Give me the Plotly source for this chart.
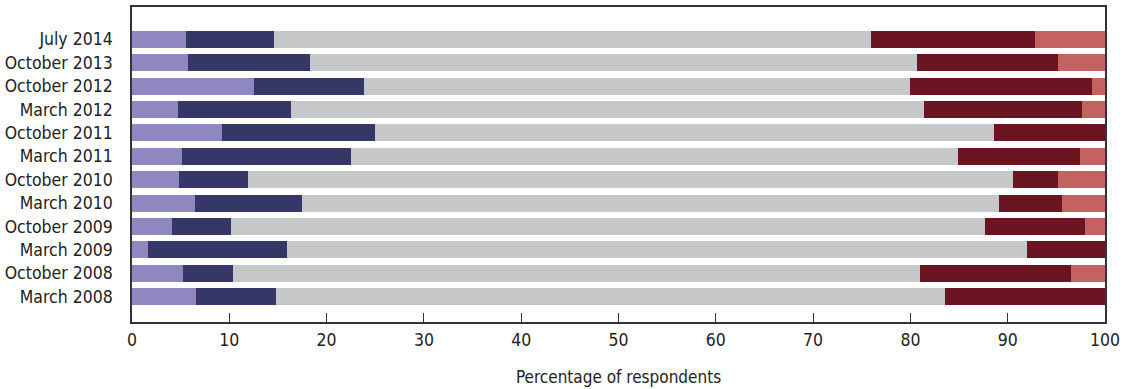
import plotly.graph_objects as go

categories = ["July 2014", "October 2013", "October 2012", "March 2012", "October 2011",
              "March 2011", "October 2010", "March 2010", "October 2009", "March 2009",
              "October 2008", "March 2008"]

s1 = [5.6, 5.8, 12.5, 4.7, 9.2, 5.1, 4.8, 6.5, 4.1, 1.6, 5.2, 6.6]
s2 = [9.0, 12.5, 11.3, 11.6, 15.8, 17.4, 7.1, 11.0, 6.1, 14.3, 5.2, 8.2]
s3 = [61.3, 62.4, 56.2, 65.1, 63.6, 62.4, 78.6, 71.6, 77.5, 76.1, 70.6, 68.8]
s4 = [16.9, 14.5, 18.7, 16.2, 11.4, 12.5, 4.7, 6.5, 10.2, 8.0, 15.5, 16.4]
s5 = [7.2, 4.8, 1.3, 2.4, 0.0, 2.6, 4.8, 4.4, 2.1, 0.0, 3.5, 0.0]

series = [s1, s2, s3, s4, s5]
colors = ["#8F87C0", "#353766", "#C6C7C9", "#6B1422", "#C46262"]

x_ticks = [0, 10, 20, 30, 40, 50, 60, 70, 80, 90, 100]

FONT = "DejaVu Sans Condensed, Liberation Sans Narrow, Arial Narrow, sans-serif"

fig = go.Figure()
for vals, col in zip(series, colors):
    fig.add_trace(go.Bar(
        y=categories, x=vals, orientation="h",
        marker=dict(color=col, line=dict(width=0)),
        hoverinfo="x+y", showlegend=False,
    ))

fig.update_layout(
    barmode="stack",
    bargap=0.28,
    width=1125, height=389,
    margin=dict(l=130, r=18, t=5, b=67),
    paper_bgcolor="white", plot_bgcolor="white",
    font=dict(family=FONT, size=17.5, color="#222222"),
    showlegend=False,
)

fig.update_xaxes(
    range=[0, 100], tickvals=x_ticks, ticktext=[str(v) for v in x_ticks],
    ticks="inside", ticklen=9, tickwidth=1, tickcolor="#333333",
    showgrid=False, zeroline=False,
    showline=True, linecolor="#333333", linewidth=1.5, mirror=True,
    ticklabelstandoff=1,
    title=dict(text="Percentage of respondents", font=dict(size=17), standoff=22),
    tickfont=dict(size=17.5),
)
fig.update_yaxes(
    categoryorder="array", categoryarray=categories,
    range=[12.08, -1.38], autorange=False,
    showgrid=False, zeroline=False,
    showline=True, linecolor="#333333", linewidth=1.5, mirror=True,
    ticks="", ticklabelstandoff=14,
    tickfont=dict(size=17.5),
)

fig.write_html(
    "out.html",
    config={"displayModeBar": False},
    post_script="document.body.style.margin='0';document.body.style.padding='0';",
)
